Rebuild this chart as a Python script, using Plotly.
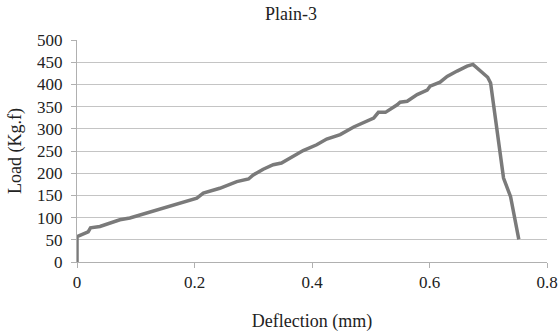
import plotly.graph_objects as go

deflection = [0.0, 0.0, 0.019, 0.023, 0.039, 0.073, 0.090, 0.124, 0.158, 0.204, 0.215,
              0.243, 0.272, 0.292, 0.300, 0.317, 0.334, 0.348, 0.385, 0.408, 0.425,
              0.448, 0.471, 0.505, 0.513, 0.525, 0.545, 0.550, 0.562, 0.579, 0.596,
              0.601, 0.618, 0.630, 0.647, 0.664, 0.674, 0.699, 0.704, 0.726, 0.738, 0.752]
load = [0, 57, 68, 77, 80, 95, 99, 113, 126, 144, 155,
        166, 181, 187, 196, 209, 219, 223, 251, 264, 277,
        287, 304, 324, 337, 337, 354, 360, 362, 377, 387,
        396, 405, 418, 430, 441, 445, 416, 403, 189, 147, 51]

x_ticks = [0, 0.2, 0.4, 0.6, 0.8]
x_tick_labels = ["0", "0.2", "0.4", "0.6", "0.8"]
y_ticks = [0, 50, 100, 150, 200, 250, 300, 350, 400, 450, 500]

font = "Liberation Serif, Times New Roman, serif"

fig = go.Figure(go.Scatter(x=deflection, y=load, mode="lines",
                           line=dict(color="#7a7a7a", width=3.5), showlegend=False))

fig.update_layout(
    width=558, height=332,
    margin=dict(l=77, r=11, t=40, b=70),
    paper_bgcolor="white", plot_bgcolor="white",
    font=dict(family=font, size=17, color="#222"),
    title=dict(text="Plain-3", x=291/558, xanchor="center", y=1 - 14/332, yanchor="middle",
               font=dict(family=font, size=18, color="#222")),
)
fig.update_xaxes(range=[0, 0.8], tickvals=x_ticks, ticktext=x_tick_labels, automargin=False,
                 showgrid=False, zeroline=False, showline=True, linecolor="#b0b0b0", linewidth=1,
                 ticks="outside", ticklen=5, tickcolor="#b0b0b0",
                 title=dict(text="Deflection (mm)", standoff=22, font=dict(family=font, size=18)))
fig.update_yaxes(range=[0, 500], tickvals=y_ticks, automargin=False,
                 showgrid=True, gridcolor="#c4c4c4", gridwidth=1, zeroline=False,
                 showline=True, linecolor="#b0b0b0", linewidth=1,
                 ticks="outside", ticklen=5, tickcolor="#b0b0b0", ticklabelstandoff=5,
                 title=dict(text="Load (Kg.f)", standoff=10, font=dict(family=font, size=18)))

fig.write_html("out.html", config={"displayModeBar": False},
               post_script="document.body.style.margin='0';")
